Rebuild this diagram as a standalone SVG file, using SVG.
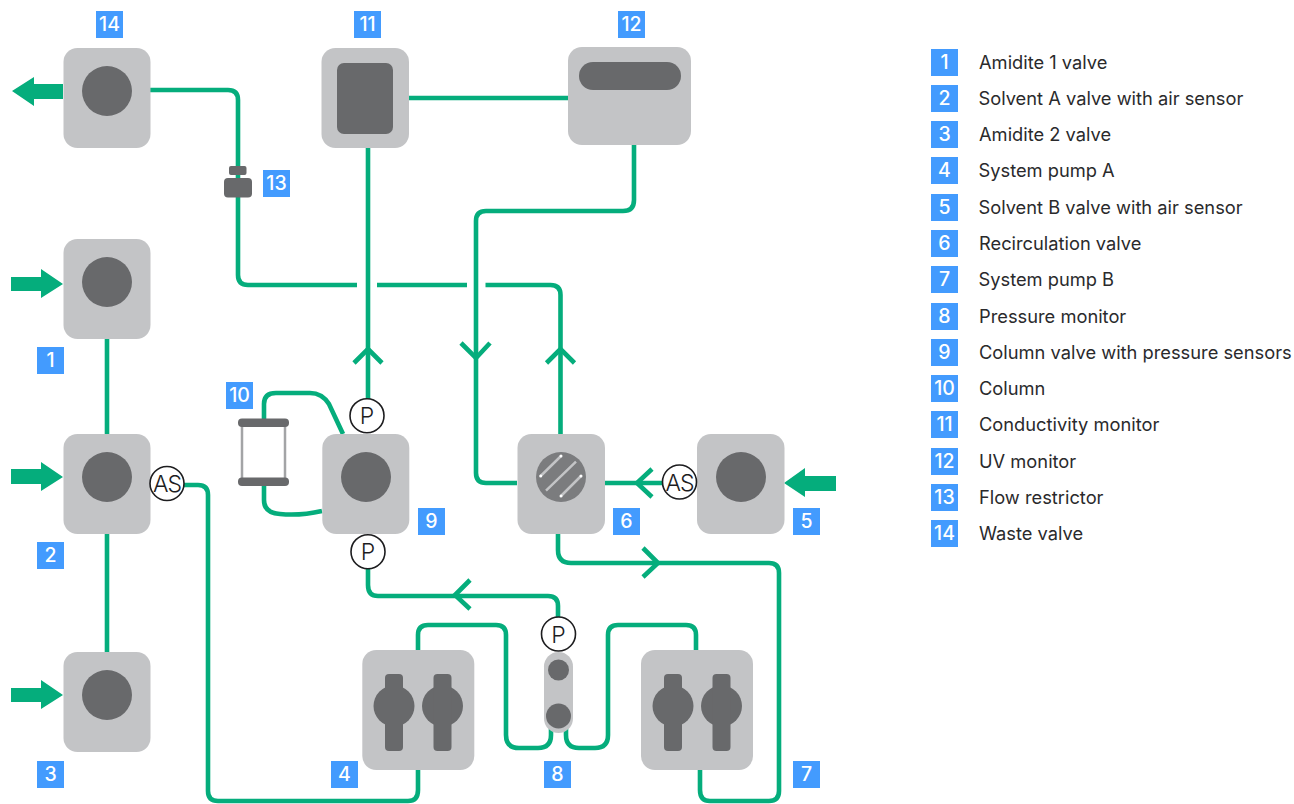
<svg xmlns="http://www.w3.org/2000/svg" width="1294" height="804" viewBox="0 0 1294 804">
<style>
.box{fill:#c3c4c6}
.dk{fill:#68696b}
.tube{fill:none;stroke:#05ad7c;stroke-width:4.6}
.arr{fill:#05ad7c}
.bd{fill:#439bfe}
.bt{fill:#fff;font:500 19.5px Inter,"Liberation Sans",sans-serif;text-anchor:middle}
.lg{fill:#2a2a2c;font:400 18.300px Inter,"Liberation Sans",sans-serif}
.sn{fill:#fff;stroke:#1d1d1f;stroke-width:1.6}
.st{fill:#1d1d1f;font:300 23px Inter,"Liberation Sans",sans-serif;text-anchor:middle}
.as{letter-spacing:-1px}
</style>
<rect width="1294" height="804" fill="#fff"/>
<g id="connectors">
<path class="tube" d="M150,90H228Q238,90 238,100V275Q238,285 248,285H357M377,285H467M485.500,285H550.500Q560.500,285 560.500,295V434"/>
<path class="tube" d="M368,148V400M409,98H568M107,339V434M107,534V652"/>
<path class="tube" d="M634,145V200Q634,211 623,211H486Q476,211 476,221V473Q476,483 486,483H517"/>
<path class="tube" d="M368,568V585Q368,596 378,596H548Q558,596 558,606V618"/>
<path class="tube" d="M418,650V635Q418,625 428,625H496Q506,625 506,635V735Q506,748 519,748H538Q551,748 551,735V728"/>
<path class="tube" d="M566,728V735Q566,748 579,748H595Q608,748 608,735V635Q608,625 618,625H686Q696,625 696,635V650"/>
<path class="tube" d="M418,770V790Q418,801 408,801H218Q208,801 208,791V495Q208,485 198,485H184"/>
<path class="tube" d="M558,534V550Q558,563 571,563H769Q779,563 779,573V791Q779,801 769,801H710Q700,801 700,790V770"/>
<path class="tube" d="M605,483H663"/>
<path class="tube" d="M264,419V404Q264,393 276,393H310Q322,393 329,404L343,434M264,486V500Q264,513 280,514Q300,516 322,511"/>
<path class="tube" d="M354,363L368,349L382,363M461,343L476,358L490,343M546.500,363L560.500,349L574.500,363M470,580L455,595L470,609M643,548L658,563L643,577M652,469L637,483L652,497"/>
<path class="arr" d="M63,84H34V77L12,91L34,106V99H63Z"/>
<path class="arr" d="M11,277H41V269L63,284L41,298V291H11Z"/>
<path class="arr" d="M11,469H41V462L63,477L41,491V484H11Z"/>
<path class="arr" d="M11,688H41V680L63,695L41,709V702H11Z"/>
<path class="arr" d="M836,476H805V468L784,483L805,497V491H836Z"/>
</g>
<g id="n14"><rect class="box" x="63.500" y="48" width="87" height="100" rx="14"/><circle class="dk" cx="107" cy="91" r="25"/><rect class="bd" x="96" y="11" width="27" height="27"/><text class="bt" x="109.500" y="31">14</text></g>
<g id="n1"><rect class="box" x="63.500" y="239" width="87" height="100" rx="14"/><circle class="dk" cx="107" cy="282" r="25"/><rect class="bd" x="37" y="347" width="27" height="27"/><text class="bt" x="50.500" y="367">1</text></g>
<g id="n2"><rect class="box" x="63.500" y="434" width="87" height="100" rx="14"/><circle class="dk" cx="107" cy="477" r="25"/><circle class="sn" cx="167" cy="483.500" r="17"/><text class="st as" x="167" y="492">AS</text><rect class="bd" x="37" y="542" width="27" height="27"/><text class="bt" x="50.500" y="562">2</text></g>
<g id="n3"><rect class="box" x="63.500" y="652" width="87" height="100" rx="14"/><circle class="dk" cx="107" cy="695" r="25"/><rect class="bd" x="37" y="761" width="27" height="27"/><text class="bt" x="50.500" y="781">3</text></g>
<g id="n4"><rect class="box" x="362.300" y="650" width="112" height="120" rx="14"/><g class="dk"><circle cx="394" cy="706" r="20.500"/><circle cx="442.500" cy="706" r="20.500"/><rect x="385" y="674" width="18" height="77" rx="4"/><rect x="433.500" y="674" width="18" height="77" rx="4"/></g><rect class="bd" x="331" y="761" width="27" height="27"/><text class="bt" x="344.500" y="781">4</text></g>
<g id="n5"><rect class="box" x="697" y="434" width="87.500" height="100" rx="14"/><circle class="dk" cx="741" cy="477" r="25"/><circle class="sn" cx="679.500" cy="482" r="17"/><text class="st as" x="679.500" y="490.500">AS</text><rect class="bd" x="793" y="508" width="27" height="27"/><text class="bt" x="806.500" y="528">5</text></g>
<g id="n6"><rect class="box" x="517.500" y="434" width="87.500" height="100" rx="14"/><circle cx="561" cy="477" r="25" fill="#7b7c7e"/><path d="M540.700,476L561,456M546,490.700L576,461.700M561,496L581,476" stroke="#c3c4c6" stroke-width="2.500" fill="none"/><g fill="#fff"><circle cx="540.700" cy="476" r="1.500"/><circle cx="561" cy="456" r="1.500"/><circle cx="561" cy="496" r="1.500"/><circle cx="581" cy="476" r="1.500"/></g><rect class="bd" x="613" y="508" width="27" height="27"/><text class="bt" x="626.500" y="528">6</text></g>
<g id="n7"><rect class="box" x="641" y="650" width="112" height="120" rx="14"/><g class="dk"><circle cx="673" cy="706" r="20.500"/><circle cx="721.500" cy="706" r="20.500"/><rect x="664" y="674" width="18" height="77" rx="4"/><rect x="712.500" y="674" width="18" height="77" rx="4"/></g><rect class="bd" x="793" y="761" width="27" height="27"/><text class="bt" x="806.500" y="781">7</text></g>
<g id="n8"><rect class="box" x="544" y="652" width="29" height="81" rx="14.500"/><circle class="dk" cx="558.500" cy="670" r="10.500"/><circle class="dk" cx="558.500" cy="716" r="12.500"/><circle class="sn" cx="558.500" cy="634" r="17"/><text class="st" x="558.500" y="642.500">P</text><rect class="bd" x="544" y="761" width="27" height="27"/><text class="bt" x="557.500" y="781">8</text></g>
<g id="n9"><rect class="box" x="322.300" y="434" width="87" height="100" rx="14"/><circle class="dk" cx="366" cy="477" r="25"/><circle class="sn" cx="367" cy="415.700" r="17"/><text class="st" x="367" y="424">P</text><circle class="sn" cx="368" cy="551.700" r="17"/><text class="st" x="368" y="560">P</text><rect class="bd" x="418" y="508" width="27" height="27"/><text class="bt" x="431.500" y="528">9</text></g>
<g id="n10"><path d="M242,423V482M285,423V482" stroke="#a3a4a6" stroke-width="2.500" fill="none"/><rect class="dk" x="238" y="418.500" width="51" height="8.500" rx="4"/><rect class="dk" x="238" y="477.500" width="51" height="8.500" rx="4"/><rect class="bd" x="226" y="382" width="27" height="27"/><text class="bt" x="239.500" y="402">10</text></g>
<g id="n11"><rect class="box" x="321.500" y="48" width="87.500" height="100" rx="14"/><rect class="dk" x="337" y="63" width="56" height="71" rx="7"/><rect class="bd" x="354" y="11" width="27" height="27"/><text class="bt" x="367.500" y="31">11</text></g>
<g id="n12"><rect class="box" x="568" y="47" width="123" height="98" rx="14"/><rect class="dk" x="579" y="62" width="102" height="28" rx="14"/><rect class="bd" x="618" y="11" width="27" height="27"/><text class="bt" x="631.500" y="31">12</text></g>
<g id="n13"><rect class="dk" x="229" y="166" width="17.500" height="9" rx="2"/><rect class="dk" x="224" y="178" width="28" height="19.500" rx="4"/><rect class="bd" x="263" y="170" width="27" height="27"/><text class="bt" x="276.500" y="190">13</text></g>
<g id="legend">
<rect class="bd" x="931" y="49" width="27" height="27"/><text class="bt" x="944.500" y="69">1</text><text class="lg" x="979" y="69">Amidite 1 valve</text>
<rect class="bd" x="931" y="85" width="27" height="27"/><text class="bt" x="944.500" y="105">2</text><text class="lg" x="978.500" y="105">Solvent A valve with air sensor</text>
<rect class="bd" x="931" y="121" width="27" height="27"/><text class="bt" x="944.500" y="141">3</text><text class="lg" x="979" y="141">Amidite 2 valve</text>
<rect class="bd" x="931" y="157" width="27" height="27"/><text class="bt" x="944.500" y="177">4</text><text class="lg" x="978.500" y="177">System pump A</text>
<rect class="bd" x="931" y="194" width="27" height="27"/><text class="bt" x="944.500" y="214">5</text><text class="lg" x="978.500" y="214">Solvent B valve with air sensor</text>
<rect class="bd" x="931" y="230" width="27" height="27"/><text class="bt" x="944.500" y="250">6</text><text class="lg" x="979" y="250">Recirculation valve</text>
<rect class="bd" x="931" y="266" width="27" height="27"/><text class="bt" x="944.500" y="286">7</text><text class="lg" x="978.500" y="286">System pump B</text>
<rect class="bd" x="931" y="303" width="27" height="27"/><text class="bt" x="944.500" y="323">8</text><text class="lg" x="979" y="323">Pressure monitor</text>
<rect class="bd" x="931" y="339" width="27" height="27"/><text class="bt" x="944.500" y="359">9</text><text class="lg" x="979" y="359">Column valve with pressure sensors</text>
<rect class="bd" x="931" y="375" width="27" height="27"/><text class="bt" x="944.500" y="395">10</text><text class="lg" x="979" y="395">Column</text>
<rect class="bd" x="931" y="411" width="27" height="27"/><text class="bt" x="944.500" y="431">11</text><text class="lg" x="979" y="431">Conductivity monitor</text>
<rect class="bd" x="931" y="448" width="27" height="27"/><text class="bt" x="944.500" y="468">12</text><text class="lg" x="979" y="468">UV monitor</text>
<rect class="bd" x="931" y="484" width="27" height="27"/><text class="bt" x="944.500" y="504">13</text><text class="lg" x="979" y="504">Flow restrictor</text>
<rect class="bd" x="931" y="520" width="27" height="27"/><text class="bt" x="944.500" y="540">14</text><text class="lg" x="979" y="540">Waste valve</text>
</g>
</svg>
